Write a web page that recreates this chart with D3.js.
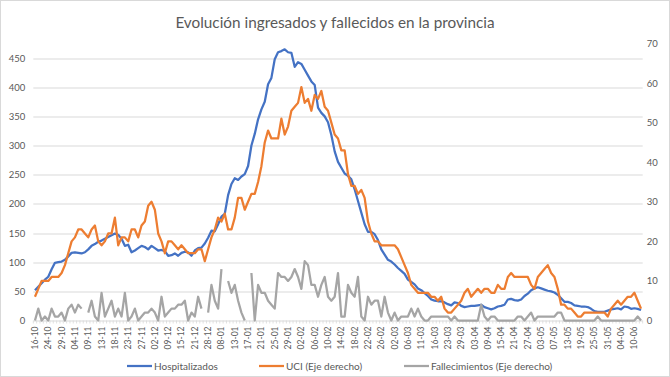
<!DOCTYPE html>
<html>
<head>
<meta charset="utf-8">
<script src="https://cdnjs.cloudflare.com/ajax/libs/d3/7.8.5/d3.min.js"></script>
<style>
  body { margin: 0; background: #fff; }
  svg text { font-family: Lato, "Open Sans", sans-serif; fill: #595959; }
</style>
</head>
<body>
<div id="chart"></div>
<script>
// tick labels, one every 4 categories (working days)
var tickLabels = ["16-10","24-10","29-10","04-11","09-11","13-11","18-11","23-11","27-11","02-12",
  "09-12","15-12","21-12","28-12","08-01","13-01","17-01","21-01","25-01","29-01",
  "02-02","06-02","10-02","14-02","18-02","22-02","26-02","02-03","06-03","11-03",
  "16-03","23-03","29-03","03-04","09-04","15-04","21-04","27-04","03-05","07-05",
  "13-05","19-05","25-05","31-05","04-06","10-06"];
var tickEvery = 4;

// left axis
var hospitalizados = [52,58,64,70,75,88,99,100,101,104,
  110,116,117,116,115,117,122,128,131,135,
  137,140,143,146,149,147,140,128,130,117,
  120,124,128,126,122,128,124,120,121,119,
  111,112,115,111,116,118,117,111,120,124,
  125,132,142,154,153,165,178,183,215,234,
  244,241,247,251,265,300,320,345,362,375,
  405,416,448,460,462,465,460,459,435,443,
  440,430,420,410,404,365,356,350,340,318,
  290,272,262,252,248,242,225,205,185,165,
  152,152,148,138,122,113,104,101,96,90,
  85,80,70,66,62,55,52,47,42,36,
  34,33,33,31,28,26,31,30,25,23,
  24,25,25,26,27,23,21,19,21,24,
  25,27,36,37,35,34,36,42,46,52,
  55,57,55,53,51,50,48,44,38,32,
  32,30,26,25,24,24,23,20,16,15,
  15,15,17,19,20,21,19,24,23,20,
  21,20,18];

// right axis
var uci = [6,8,10,10,10,11,11,11,12,14,
  17,20,21,23,23,22,21,23,24,20,
  19,20,22,22,26,19,21,21,20,23,
  23,21,24,25,29,30,28,22,20,17,
  20,20,19,18,19,18,17,17,17,18,
  18,15,18,21,23,26,25,27,23,23,
  26,31,31,28,30,32,32,35,39,45,
  48,46,46,46,51,47,49,53,54,55,
  59,55,56,53,57,56,58,54,53,50,
  47,46,43,43,37,34,34,32,33,31,
  25,22,20,20,19,19,19,19,19,18,
  16,14,12,9,8,7,7,7,7,6,
  6,5,6,3,2,2,3,4,5,7,
  8,6,7,8,7,8,8,7,7,9,
  8,8,11,12,11,11,11,11,11,9,
  8,11,12,13,14,12,11,8,4,4,
  3,3,2,1,1,2,2,2,2,2,
  2,2,1,3,4,5,4,5,6,6,
  7,5,3];

// right axis, null = no data
var fallecimientos = [0,3,0,1,0,3,1,1,2,0,
  3,4,2,4,3,null,2,5,1,0,
  7,1,3,5,1,3,1,7,0,1,
  3,0,1,2,2,3,2,0,6,1,
  2,3,3,4,4,5,0,2,1,6,
  3,null,2,9,5,3,13,null,10,7,
  9,5,2,0,null,12,0,9,7,7,
  5,4,3,12,11,11,10,11,13,11,
  8,15,14,9,9,6,9,11,6,5,
  6,12,1,1,9,7,6,11,1,0,
  6,4,5,5,1,6,2,0,2,0,
  1,1,1,3,1,3,1,0,0,1,
  1,1,1,1,1,0,1,0,0,0,
  0,0,0,0,4,1,0,1,1,0,
  0,0,0,0,0,1,1,0,1,2,
  0,1,1,1,1,1,1,2,2,0,
  0,0,0,0,0,0,0,0,0,1,
  0,0,0,0,0,0,0,0,0,0,
  0,1,0];

var leftTicks = [0,50,100,150,200,250,300,350,400,450];
var rightTicks = [0,10,20,30,40,50,60,70];

var series = [
  { name: "Hospitalizados", values: hospitalizados, color: "#4472C4", axis: "left" },
  { name: "UCI (Eje derecho)", values: uci, color: "#ED7D31", axis: "right" },
  { name: "Fallecimientos (Eje derecho)", values: fallecimientos, color: "#A5A5A5", axis: "right" }
];

var W = 670, H = 377;
var margin = { top: 43.5, right: 27.3, bottom: 56.5, left: 33.3 },
    width = W - margin.left - margin.right,
    height = H - margin.top - margin.bottom;

var svg = d3.select("#chart").append("svg")
    .attr("width", W)
    .attr("height", H);

// outer border
svg.append("rect")
    .attr("x", 0.5).attr("y", 0.5)
    .attr("width", W - 1).attr("height", H - 1)
    .attr("fill", "#fff")
    .attr("stroke", "#d9d9d9");

svg.append("text")
    .attr("x", W / 2)
    .attr("y", 28)
    .attr("text-anchor", "middle")
    .style("font-size", "15.3px")
    .text("Evolución ingresados y fallecidos en la provincia");

var g = svg.append("g")
    .attr("transform", "translate(" + margin.left + "," + margin.top + ")");

var n = hospitalizados.length;
var x = d3.scaleBand().domain(d3.range(n)).range([0, width]);
var cx = function(i) { return x(i) + x.bandwidth() / 2; };

var yL = d3.scaleLinear().domain([0, 475]).range([height, 0]);
var yR = d3.scaleLinear().domain([0, 70]).range([height, 0]);

// gridlines
g.append("g")
    .selectAll("line")
    .data(leftTicks)
  .enter().append("line")
    .attr("x1", 0).attr("x2", width)
    .attr("y1", function(d) { return Math.round(yL(d)) + 0.5; })
    .attr("y2", function(d) { return Math.round(yL(d)) + 0.5; })
    .attr("stroke", "#d9d9d9");

// small category ticks
g.append("g")
    .selectAll("line")
    .data(d3.range(n + 1))
  .enter().append("line")
    .attr("x1", function(i) { return i < n ? x(i) : width; })
    .attr("x2", function(i) { return i < n ? x(i) : width; })
    .attr("y1", height).attr("y2", height + 3)
    .attr("stroke", "#d9d9d9")
    .attr("stroke-width", 0.8);

// y axes
var yAxisL = d3.axisLeft(yL).tickValues(leftTicks).tickSize(0).tickPadding(8);
var yAxisR = d3.axisRight(yR).tickValues(rightTicks).tickSize(0).tickPadding(4);

g.append("g").call(yAxisL)
    .call(function(a) { a.select(".domain").remove(); })
    .selectAll("text").style("font-size", "9.5px").attr("fill", "#595959");

g.append("g").attr("transform", "translate(" + width + ",0)").call(yAxisR)
    .call(function(a) { a.select(".domain").remove(); })
    .selectAll("text").style("font-size", "9.5px").attr("fill", "#595959");

// x labels, rotated
g.append("g")
    .selectAll("text")
    .data(tickLabels)
  .enter().append("text")
    .attr("transform", function(d, k) {
      return "translate(" + (cx(k * tickEvery) + 3) + "," + (height + 6) + ") rotate(-90)";
    })
    .attr("text-anchor", "end")
    .style("font-size", "8.5px")
    .text(function(d) { return d; });

// lines
series.forEach(function(s) {
  var y = s.axis === "left" ? yL : yR;
  var line = d3.line()
      .defined(function(d) { return d != null; })
      .x(function(d, i) { return cx(i); })
      .y(function(d) { return y(d); });
  g.append("path")
      .datum(s.values)
      .attr("fill", "none")
      .attr("stroke", s.color)
      .attr("stroke-width", 2.25)
      .attr("stroke-linejoin", "round")
      .attr("d", line);
});

// legend
var legendX = [127, 259, 404];
var legend = svg.selectAll(".legend")
    .data(series)
  .enter().append("g")
    .attr("class", "legend")
    .attr("transform", function(d, i) { return "translate(" + legendX[i] + ",366)"; });

legend.append("line")
    .attr("x1", 0).attr("x2", 25)
    .attr("stroke", function(d) { return d.color; })
    .attr("stroke-width", 2.25);

legend.append("text")
    .attr("x", 27)
    .attr("dy", "0.35em")
    .style("font-size", "10px")
    .text(function(d) { return d.name; });
</script>
</body>
</html>
